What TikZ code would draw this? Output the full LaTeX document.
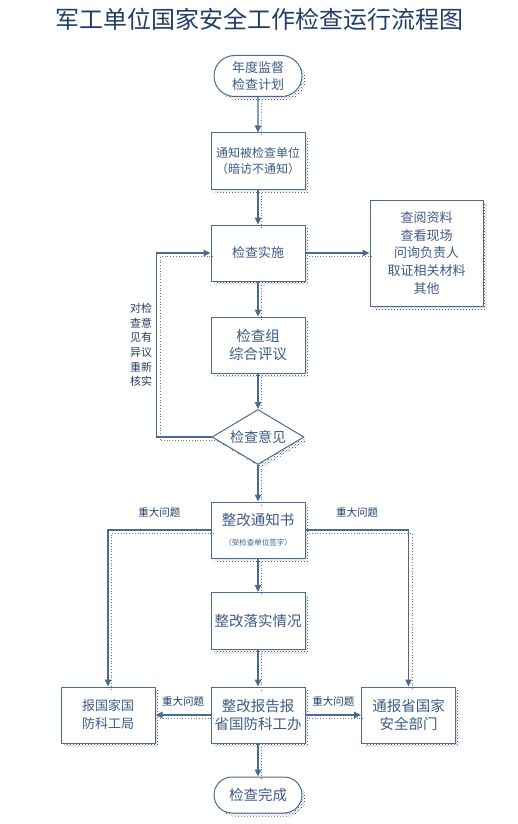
\documentclass[tikz,border=0pt]{standalone}
\usepackage{fontspec}
\setmainfont{Noto Sans CJK SC}
\usepackage{xcolor}
\definecolor{flowblue}{RGB}{72,108,150}
\definecolor{flowtext}{RGB}{62,92,132}
\definecolor{titleblue}{RGB}{34,62,104}
\definecolor{shadegray}{RGB}{60,60,60}
\usepackage{tikz}
\usetikzlibrary{arrows.meta, positioning, shapes.geometric, shapes.misc, shadows, patterns}

\tikzset{
  boxshadow/.style={drop shadow={shadow xshift=3.5pt, shadow yshift=-3.5pt, opacity=1, pattern=crosshatch dots, pattern color=shadegray}},
  procbox/.style={draw=flowblue, line width=1pt, fill=white, text=flowtext, align=center,
    minimum width=94pt, minimum height=56pt, inner sep=2pt, boxshadow},
  termbox/.style={rounded rectangle, draw=flowblue, line width=1pt, fill=white, text=flowtext,
    align=center, minimum width=92pt, inner sep=2pt, boxshadow},
  decbox/.style={diamond, aspect=1.67, draw=flowblue, line width=1pt, fill=white, text=flowtext,
    minimum width=92pt, minimum height=55pt, inner sep=0pt, boxshadow},
  flowarrow/.style={draw=flowblue, line width=1.3pt, -{Triangle[length=7pt,width=6.5pt]},
    preaction={draw=shadegray!70, line width=0.8pt, dotted, -, transform canvas={shift={(3.5pt,-3.5pt)}}}},
  lbl/.style={text=titleblue, font=\fontsize{10.5}{12}\selectfont},
}

\begin{document}
\begin{tikzpicture}[x=1pt, y=-1pt]
  \useasboundingbox (0,0) rectangle (518,824);

  % Title
  \node[text=titleblue, font=\fontsize{24}{28}\selectfont] (title) at (259,19) {军工单位国家安全工作检查运行流程图};

  % Main column
  \node[termbox, minimum height=41pt, font=\fontsize{13}{16.5}\selectfont] (plan) at (258,76) {年度监督\\检查计划};
  \node[procbox, font=\fontsize{12}{16}\selectfont] (notify) at (258,161) {通知被检查单位\\（暗访不通知）};
  \node[procbox, font=\fontsize{13}{16}\selectfont] (exec) at (258,253) {检查实施};
  \node[procbox, font=\fontsize{14.5}{18}\selectfont] (review) at (258,345) {检查组\\综合评议};
  \node[decbox, font=\fontsize{14}{16}\selectfont] (opinion) at (258,437) {检查意见};
  \node[procbox, font=\fontsize{14.5}{18}\selectfont] (notice) at (258,530)
    {整改通知书\\[2pt]{\fontsize{7.5}{9}\selectfont （受检查单位签字）}};
  \node[procbox, minimum height=57pt, font=\fontsize{14.5}{18}\selectfont] (fix) at (258,621) {整改落实情况};
  \node[procbox, font=\fontsize{14.5}{18}\selectfont] (report) at (258,715) {整改报告报\\省国防科工办};
  \node[termbox, minimum height=36pt, font=\fontsize{14.5}{18}\selectfont] (done) at (258,795) {检查完成};

  % Side boxes
  \node[procbox, minimum width=113pt, minimum height=106pt, font=\fontsize{13}{17.6}\selectfont] (items) at (426.5,253)
    {查阅资料\\查看现场\\问询负责人\\取证相关材料\\其他};
  \node[procbox, font=\fontsize{13}{18}\selectfont] (bureau) at (108,715) {报国家国\\防科工局};
  \node[procbox, font=\fontsize{14.5}{18}\selectfont] (security) at (408.5,715) {通报省国家\\安全部门};

  % Loop label
  \node[lbl, font=\fontsize{11}{14.6}\selectfont, align=center] (recheck) at (141,345) {对检\\查意\\见有\\异议\\重新\\核实};

  % Connectors
  \draw[flowarrow] (plan) -- (notify);
  \draw[flowarrow] (notify) -- (exec);
  \draw[flowarrow] (exec) -- (items);
  \draw[flowarrow] (exec) -- (review);
  \draw[flowarrow] (review) -- (opinion);
  \draw[flowarrow] (opinion.west) -- ++(-55,0) |- (exec.west);
  \draw[flowarrow] (opinion) -- (notice);
  \draw[flowarrow] (notice) -- (fix);
  \draw[flowarrow] (fix) -- (report);
  \draw[flowarrow] (report) -- (done);
  \draw[flowarrow] (notice.west) -| node[lbl, pos=0.25, above=9pt] {重大问题} (bureau.north);
  \draw[flowarrow] (notice.east) -| node[lbl, pos=0.25, above=9pt] {重大问题} (security.north);
  \draw[flowarrow] (report.west) -- node[lbl, above=5pt] {重大问题} (bureau.east);
  \draw[flowarrow] (report.east) -- node[lbl, above=5pt] {重大问题} (security.west);
\end{tikzpicture}
\end{document}
